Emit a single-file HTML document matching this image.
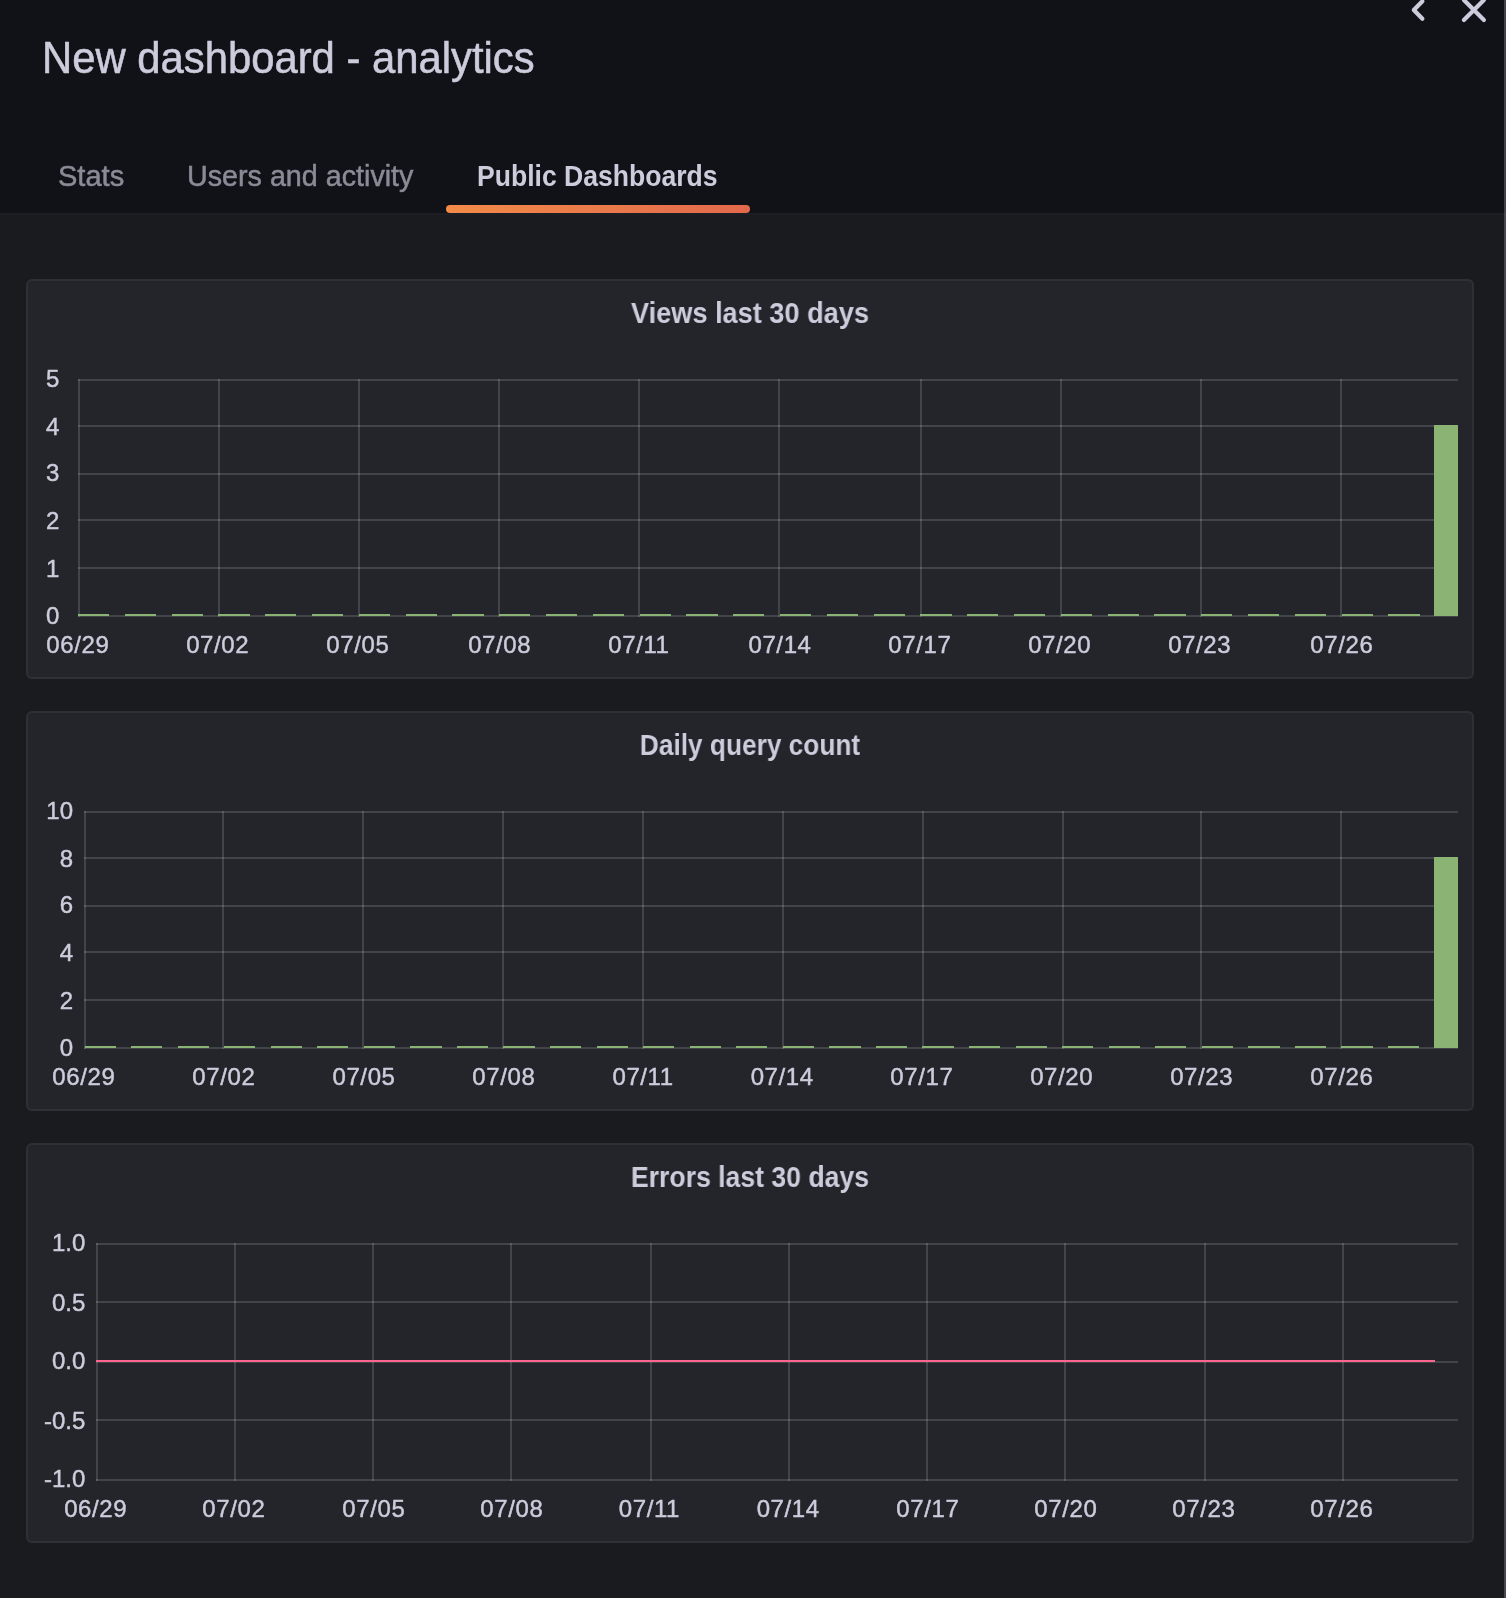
<!DOCTYPE html>
<html><head><meta charset="utf-8"><title>New dashboard - analytics</title>
<style>
html,body{margin:0;padding:0;}
body{width:1506px;height:1598px;position:relative;overflow:hidden;background:#1a1b1f;font-family:"Liberation Sans",sans-serif;color:#ccccdc;}
#root{position:absolute;left:0;top:0;width:1506px;height:1598px;will-change:transform;transform:translateZ(0);}
.hdr{position:absolute;left:0;top:0;width:1506px;height:215px;background:#111217;}
.hb{position:absolute;left:0;top:213px;width:1506px;height:2px;background:rgba(204,204,220,0.07);}
.strip{position:absolute;left:1504px;top:0;width:2px;height:1598px;background:rgba(204,204,220,0.257);}
.title{position:absolute;left:41.7px;top:29.6px;transform:scaleX(0.959);-webkit-text-stroke:0.55px #ccccdc;transform-origin:0 0;font-size:43.6px;line-height:56px;white-space:nowrap;letter-spacing:0px;color:#ccccdc;}
.tab{position:absolute;top:157.5px;transform-origin:0 0;font-size:29.6px;line-height:36px;white-space:nowrap;color:#8b8b97;-webkit-text-stroke:0.5px #8b8b97;}
.tab.a{color:#ccccdc;font-weight:bold;-webkit-text-stroke:0;}
.ul{position:absolute;left:446px;top:205px;width:304px;height:8px;border-radius:4px;background:linear-gradient(90deg,#f28b48 0%,#e2694c 100%);}
.panel{position:absolute;left:26px;width:1448px;height:400px;box-sizing:border-box;background:#23252a;border:2px solid rgba(204,204,220,0.07);border-radius:6px;}
.pt{position:absolute;left:26px;width:1448px;text-align:center;font-size:29.6px;line-height:36px;font-weight:bold;color:#ccccdc;white-space:nowrap;}
.l{position:absolute;}
.yl,.xl{-webkit-text-stroke:0.45px #ccccdc;}
.yl{position:absolute;font-size:24px;line-height:30px;white-space:nowrap;text-align:right;color:#ccccdc;}
.xl{position:absolute;width:120px;font-size:24px;line-height:30px;letter-spacing:0.6px;white-space:nowrap;text-align:center;color:#ccccdc;}
svg{position:absolute;overflow:visible;}
</style></head><body>
<div id="root">
<div class="hdr"></div>
<div class="hb"></div>
<div class="title">New dashboard - analytics</div>
<svg style="left:0;top:0" width="1506" height="40" viewBox="0 0 1506 40" fill="none" stroke="#ccccdc" stroke-width="4.2" stroke-linecap="round" stroke-linejoin="round">
<path d="M1422.4 1.2 L1413.8 10 L1422.4 18.8"/>
<path d="M1463.9 0 L1483.9 20 M1483.9 0 L1463.9 20"/>
</svg>
<div class="tab" id="t1" style="left:57.5px;transform:scaleX(0.981)">Stats</div>
<div class="tab" id="t2" style="left:186.7px;transform:scaleX(0.9696)">Users and activity</div>
<div class="tab a" id="t3" style="left:477.4px;transform:scaleX(0.8977)">Public Dashboards</div>
<div class="ul"></div>
<div class="panel" style="top:279px"></div>
<div class="pt" style="top:295px;transform:scaleX(0.9176)">Views last 30 days</div>
<div class="l" style="left:78px;top:379px;width:1380px;height:2px;background:rgba(240,250,255,0.15)"></div>
<div class="l" style="left:78px;top:425px;width:1380px;height:2px;background:rgba(240,250,255,0.15)"></div>
<div class="l" style="left:78px;top:473px;width:1380px;height:2px;background:rgba(240,250,255,0.15)"></div>
<div class="l" style="left:78px;top:519px;width:1380px;height:2px;background:rgba(240,250,255,0.15)"></div>
<div class="l" style="left:78px;top:567px;width:1380px;height:2px;background:rgba(240,250,255,0.15)"></div>
<div class="l" style="left:78px;top:615px;width:1380px;height:2px;background:rgba(240,250,255,0.15)"></div>
<div class="l" style="left:78px;top:379px;width:2px;height:238px;background:rgba(240,250,255,0.15)"></div>
<div class="l" style="left:218px;top:379px;width:2px;height:238px;background:rgba(240,250,255,0.15)"></div>
<div class="l" style="left:358px;top:379px;width:2px;height:238px;background:rgba(240,250,255,0.15)"></div>
<div class="l" style="left:498px;top:379px;width:2px;height:238px;background:rgba(240,250,255,0.15)"></div>
<div class="l" style="left:638px;top:379px;width:2px;height:238px;background:rgba(240,250,255,0.15)"></div>
<div class="l" style="left:778px;top:379px;width:2px;height:238px;background:rgba(240,250,255,0.15)"></div>
<div class="l" style="left:920px;top:379px;width:2px;height:238px;background:rgba(240,250,255,0.15)"></div>
<div class="l" style="left:1060px;top:379px;width:2px;height:238px;background:rgba(240,250,255,0.15)"></div>
<div class="l" style="left:1200px;top:379px;width:2px;height:238px;background:rgba(240,250,255,0.15)"></div>
<div class="l" style="left:1340px;top:379px;width:2px;height:238px;background:rgba(240,250,255,0.15)"></div>
<div class="yl" style="right:1446.7px;top:364.1px">5</div>
<div class="yl" style="right:1446.7px;top:412.1px">4</div>
<div class="yl" style="right:1446.7px;top:457.9px">3</div>
<div class="yl" style="right:1446.7px;top:505.9px">2</div>
<div class="yl" style="right:1446.7px;top:554.0px">1</div>
<div class="yl" style="right:1446.7px;top:600.5px">0</div>
<div class="xl" style="left:17.8px;top:630px">06/29</div>
<div class="xl" style="left:157.7px;top:630px">07/02</div>
<div class="xl" style="left:297.8px;top:630px">07/05</div>
<div class="xl" style="left:439.7px;top:630px">07/08</div>
<div class="xl" style="left:578.9px;top:630px">07/11</div>
<div class="xl" style="left:720.0px;top:630px">07/14</div>
<div class="xl" style="left:859.8px;top:630px">07/17</div>
<div class="xl" style="left:999.7px;top:630px">07/20</div>
<div class="xl" style="left:1139.7px;top:630px">07/23</div>
<div class="xl" style="left:1281.8px;top:630px">07/26</div>
<div class="l" style="left:78.00px;top:614px;width:31.20px;height:2px;background:#8bb474"></div>
<div class="l" style="left:124.80px;top:614px;width:31.20px;height:2px;background:#8bb474"></div>
<div class="l" style="left:171.60px;top:614px;width:31.20px;height:2px;background:#8bb474"></div>
<div class="l" style="left:218.40px;top:614px;width:31.20px;height:2px;background:#8bb474"></div>
<div class="l" style="left:265.20px;top:614px;width:31.20px;height:2px;background:#8bb474"></div>
<div class="l" style="left:312.00px;top:614px;width:31.20px;height:2px;background:#8bb474"></div>
<div class="l" style="left:358.80px;top:614px;width:31.20px;height:2px;background:#8bb474"></div>
<div class="l" style="left:405.60px;top:614px;width:31.20px;height:2px;background:#8bb474"></div>
<div class="l" style="left:452.40px;top:614px;width:31.20px;height:2px;background:#8bb474"></div>
<div class="l" style="left:499.20px;top:614px;width:31.20px;height:2px;background:#8bb474"></div>
<div class="l" style="left:546.00px;top:614px;width:31.20px;height:2px;background:#8bb474"></div>
<div class="l" style="left:592.80px;top:614px;width:31.20px;height:2px;background:#8bb474"></div>
<div class="l" style="left:639.60px;top:614px;width:31.20px;height:2px;background:#8bb474"></div>
<div class="l" style="left:686.40px;top:614px;width:31.20px;height:2px;background:#8bb474"></div>
<div class="l" style="left:733.20px;top:614px;width:31.20px;height:2px;background:#8bb474"></div>
<div class="l" style="left:780.00px;top:614px;width:31.20px;height:2px;background:#8bb474"></div>
<div class="l" style="left:826.80px;top:614px;width:31.20px;height:2px;background:#8bb474"></div>
<div class="l" style="left:873.60px;top:614px;width:31.20px;height:2px;background:#8bb474"></div>
<div class="l" style="left:920.40px;top:614px;width:31.20px;height:2px;background:#8bb474"></div>
<div class="l" style="left:967.20px;top:614px;width:31.20px;height:2px;background:#8bb474"></div>
<div class="l" style="left:1014.00px;top:614px;width:31.20px;height:2px;background:#8bb474"></div>
<div class="l" style="left:1060.80px;top:614px;width:31.20px;height:2px;background:#8bb474"></div>
<div class="l" style="left:1107.60px;top:614px;width:31.20px;height:2px;background:#8bb474"></div>
<div class="l" style="left:1154.40px;top:614px;width:31.20px;height:2px;background:#8bb474"></div>
<div class="l" style="left:1201.20px;top:614px;width:31.20px;height:2px;background:#8bb474"></div>
<div class="l" style="left:1248.00px;top:614px;width:31.20px;height:2px;background:#8bb474"></div>
<div class="l" style="left:1294.80px;top:614px;width:31.20px;height:2px;background:#8bb474"></div>
<div class="l" style="left:1341.60px;top:614px;width:31.20px;height:2px;background:#8bb474"></div>
<div class="l" style="left:1388.40px;top:614px;width:31.20px;height:2px;background:#8bb474"></div>
<div class="l" style="left:1433.60px;top:425px;width:24.40px;height:191px;background:#8bb474"></div>
<div class="panel" style="top:711px"></div>
<div class="pt" style="top:727px;transform:scaleX(0.8873)">Daily query count</div>
<div class="l" style="left:84px;top:811px;width:1374px;height:2px;background:rgba(240,250,255,0.15)"></div>
<div class="l" style="left:84px;top:857px;width:1374px;height:2px;background:rgba(240,250,255,0.15)"></div>
<div class="l" style="left:84px;top:905px;width:1374px;height:2px;background:rgba(240,250,255,0.15)"></div>
<div class="l" style="left:84px;top:951px;width:1374px;height:2px;background:rgba(240,250,255,0.15)"></div>
<div class="l" style="left:84px;top:999px;width:1374px;height:2px;background:rgba(240,250,255,0.15)"></div>
<div class="l" style="left:84px;top:1047px;width:1374px;height:2px;background:rgba(240,250,255,0.15)"></div>
<div class="l" style="left:84px;top:811px;width:2px;height:238px;background:rgba(240,250,255,0.15)"></div>
<div class="l" style="left:222px;top:811px;width:2px;height:238px;background:rgba(240,250,255,0.15)"></div>
<div class="l" style="left:362px;top:811px;width:2px;height:238px;background:rgba(240,250,255,0.15)"></div>
<div class="l" style="left:502px;top:811px;width:2px;height:238px;background:rgba(240,250,255,0.15)"></div>
<div class="l" style="left:642px;top:811px;width:2px;height:238px;background:rgba(240,250,255,0.15)"></div>
<div class="l" style="left:782px;top:811px;width:2px;height:238px;background:rgba(240,250,255,0.15)"></div>
<div class="l" style="left:922px;top:811px;width:2px;height:238px;background:rgba(240,250,255,0.15)"></div>
<div class="l" style="left:1062px;top:811px;width:2px;height:238px;background:rgba(240,250,255,0.15)"></div>
<div class="l" style="left:1200px;top:811px;width:2px;height:238px;background:rgba(240,250,255,0.15)"></div>
<div class="l" style="left:1340px;top:811px;width:2px;height:238px;background:rgba(240,250,255,0.15)"></div>
<div class="yl" style="right:1433.0px;top:796.1px">10</div>
<div class="yl" style="right:1433.0px;top:844.1px">8</div>
<div class="yl" style="right:1433.0px;top:889.9px">6</div>
<div class="yl" style="right:1433.0px;top:937.9px">4</div>
<div class="yl" style="right:1433.0px;top:986.0px">2</div>
<div class="yl" style="right:1433.0px;top:1032.5px">0</div>
<div class="xl" style="left:23.8px;top:1062px">06/29</div>
<div class="xl" style="left:163.9px;top:1062px">07/02</div>
<div class="xl" style="left:304.0px;top:1062px">07/05</div>
<div class="xl" style="left:443.8px;top:1062px">07/08</div>
<div class="xl" style="left:583.1px;top:1062px">07/11</div>
<div class="xl" style="left:722.2px;top:1062px">07/14</div>
<div class="xl" style="left:861.8px;top:1062px">07/17</div>
<div class="xl" style="left:1001.7px;top:1062px">07/20</div>
<div class="xl" style="left:1141.7px;top:1062px">07/23</div>
<div class="xl" style="left:1281.8px;top:1062px">07/26</div>
<div class="l" style="left:84.50px;top:1046px;width:31.20px;height:2px;background:#8bb474"></div>
<div class="l" style="left:131.05px;top:1046px;width:31.20px;height:2px;background:#8bb474"></div>
<div class="l" style="left:177.61px;top:1046px;width:31.20px;height:2px;background:#8bb474"></div>
<div class="l" style="left:224.16px;top:1046px;width:31.20px;height:2px;background:#8bb474"></div>
<div class="l" style="left:270.71px;top:1046px;width:31.20px;height:2px;background:#8bb474"></div>
<div class="l" style="left:317.27px;top:1046px;width:31.20px;height:2px;background:#8bb474"></div>
<div class="l" style="left:363.82px;top:1046px;width:31.20px;height:2px;background:#8bb474"></div>
<div class="l" style="left:410.38px;top:1046px;width:31.20px;height:2px;background:#8bb474"></div>
<div class="l" style="left:456.93px;top:1046px;width:31.20px;height:2px;background:#8bb474"></div>
<div class="l" style="left:503.48px;top:1046px;width:31.20px;height:2px;background:#8bb474"></div>
<div class="l" style="left:550.04px;top:1046px;width:31.20px;height:2px;background:#8bb474"></div>
<div class="l" style="left:596.59px;top:1046px;width:31.20px;height:2px;background:#8bb474"></div>
<div class="l" style="left:643.14px;top:1046px;width:31.20px;height:2px;background:#8bb474"></div>
<div class="l" style="left:689.70px;top:1046px;width:31.20px;height:2px;background:#8bb474"></div>
<div class="l" style="left:736.25px;top:1046px;width:31.20px;height:2px;background:#8bb474"></div>
<div class="l" style="left:782.80px;top:1046px;width:31.20px;height:2px;background:#8bb474"></div>
<div class="l" style="left:829.36px;top:1046px;width:31.20px;height:2px;background:#8bb474"></div>
<div class="l" style="left:875.91px;top:1046px;width:31.20px;height:2px;background:#8bb474"></div>
<div class="l" style="left:922.46px;top:1046px;width:31.20px;height:2px;background:#8bb474"></div>
<div class="l" style="left:969.02px;top:1046px;width:31.20px;height:2px;background:#8bb474"></div>
<div class="l" style="left:1015.57px;top:1046px;width:31.20px;height:2px;background:#8bb474"></div>
<div class="l" style="left:1062.12px;top:1046px;width:31.20px;height:2px;background:#8bb474"></div>
<div class="l" style="left:1108.68px;top:1046px;width:31.20px;height:2px;background:#8bb474"></div>
<div class="l" style="left:1155.23px;top:1046px;width:31.20px;height:2px;background:#8bb474"></div>
<div class="l" style="left:1201.79px;top:1046px;width:31.20px;height:2px;background:#8bb474"></div>
<div class="l" style="left:1248.34px;top:1046px;width:31.20px;height:2px;background:#8bb474"></div>
<div class="l" style="left:1294.89px;top:1046px;width:31.20px;height:2px;background:#8bb474"></div>
<div class="l" style="left:1341.45px;top:1046px;width:31.20px;height:2px;background:#8bb474"></div>
<div class="l" style="left:1388.00px;top:1046px;width:31.20px;height:2px;background:#8bb474"></div>
<div class="l" style="left:1433.60px;top:857px;width:24.40px;height:191px;background:#8bb474"></div>
<div class="panel" style="top:1143px"></div>
<div class="pt" style="top:1159px;transform:scaleX(0.8986)">Errors last 30 days</div>
<div class="l" style="left:96px;top:1243px;width:1362px;height:2px;background:rgba(240,250,255,0.15)"></div>
<div class="l" style="left:96px;top:1301px;width:1362px;height:2px;background:rgba(240,250,255,0.15)"></div>
<div class="l" style="left:96px;top:1361px;width:1362px;height:2px;background:rgba(240,250,255,0.15)"></div>
<div class="l" style="left:96px;top:1419px;width:1362px;height:2px;background:rgba(240,250,255,0.15)"></div>
<div class="l" style="left:96px;top:1479px;width:1362px;height:2px;background:rgba(240,250,255,0.15)"></div>
<div class="l" style="left:96px;top:1243px;width:2px;height:238px;background:rgba(240,250,255,0.15)"></div>
<div class="l" style="left:234px;top:1243px;width:2px;height:238px;background:rgba(240,250,255,0.15)"></div>
<div class="l" style="left:372px;top:1243px;width:2px;height:238px;background:rgba(240,250,255,0.15)"></div>
<div class="l" style="left:510px;top:1243px;width:2px;height:238px;background:rgba(240,250,255,0.15)"></div>
<div class="l" style="left:650px;top:1243px;width:2px;height:238px;background:rgba(240,250,255,0.15)"></div>
<div class="l" style="left:788px;top:1243px;width:2px;height:238px;background:rgba(240,250,255,0.15)"></div>
<div class="l" style="left:926px;top:1243px;width:2px;height:238px;background:rgba(240,250,255,0.15)"></div>
<div class="l" style="left:1064px;top:1243px;width:2px;height:238px;background:rgba(240,250,255,0.15)"></div>
<div class="l" style="left:1204px;top:1243px;width:2px;height:238px;background:rgba(240,250,255,0.15)"></div>
<div class="l" style="left:1342px;top:1243px;width:2px;height:238px;background:rgba(240,250,255,0.15)"></div>
<div class="yl" style="right:1420.7px;top:1228.1px">1.0</div>
<div class="yl" style="right:1420.7px;top:1287.7px">0.5</div>
<div class="yl" style="right:1420.7px;top:1345.8px">0.0</div>
<div class="yl" style="right:1420.7px;top:1405.8px">-0.5</div>
<div class="yl" style="right:1420.7px;top:1463.8px">-1.0</div>
<div class="xl" style="left:35.7px;top:1494px">06/29</div>
<div class="xl" style="left:173.8px;top:1494px">07/02</div>
<div class="xl" style="left:313.9px;top:1494px">07/05</div>
<div class="xl" style="left:451.8px;top:1494px">07/08</div>
<div class="xl" style="left:589.4px;top:1494px">07/11</div>
<div class="xl" style="left:728.2px;top:1494px">07/14</div>
<div class="xl" style="left:867.9px;top:1494px">07/17</div>
<div class="xl" style="left:1005.9px;top:1494px">07/20</div>
<div class="xl" style="left:1143.8px;top:1494px">07/23</div>
<div class="xl" style="left:1281.8px;top:1494px">07/26</div>
<div class="l" style="left:96px;top:1360px;width:1339px;height:2px;background:#fb6590"></div>
<div class="strip"></div>
</div>
</body></html>
